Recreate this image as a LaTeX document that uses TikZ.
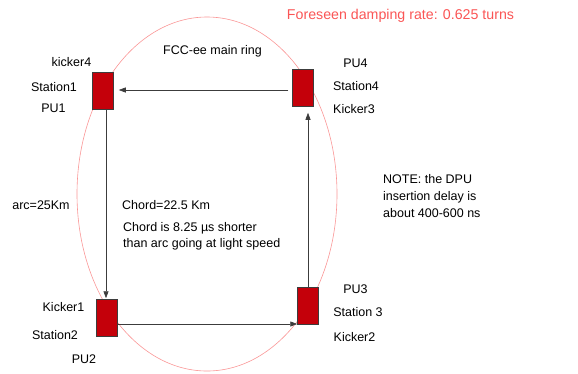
\documentclass[tikz,border=0pt]{standalone}
\usepackage{fontspec}
\setmainfont{Liberation Sans}
\usepackage{xcolor}
\usepackage{tikz}
\usetikzlibrary{arrows.meta,positioning,calc}
\definecolor{kickred}{RGB}{196,0,10}
\definecolor{ringpink}{RGB}{250,150,150}
\definecolor{notered}{RGB}{250,85,85}
\definecolor{arrgray}{RGB}{60,60,60}

\begin{document}
\begin{tikzpicture}[x=1pt,y=-1pt,
    station/.style={draw=arrgray,fill=kickred,minimum width=21pt,
                    minimum height=37pt,inner sep=0pt,line width=0.5pt},
    lbl/.style={font=\fontsize{12.5}{16}\selectfont,inner sep=0pt},
    arr/.style={-{Triangle[length=7pt,width=5pt]},line width=0.7pt,arrgray},
  ]
    \useasboundingbox (0,0) rectangle (578,373);
    % main ring
    \draw[ringpink,line width=0.6pt] (207,194) ellipse [x radius=130,y radius=177];
    % stations
    \node[station](s1) at (103,91){};
    \node[station](s4) at (303,88){};
    \node[station](s2) at (107,318){};
    \node[station](s3) at (308,306){};
    % connectors
    \draw[arr,shorten <=4pt,shorten >=5pt]
      ([yshift=-2pt]s4.west) -- ([yshift=-2pt]s4.west -| s1.east);
    \draw[arr,shorten >=1pt]
      ([xshift=3pt]s1.south) -- ([xshift=3pt]s1.south |- s2.north);
    \draw[arr]
      ([yshift=-6pt]s2.east) -- ([yshift=-6pt]s2.east -| s3.west);
    \draw[arr,shorten >=6pt] (s3.north) -- (s3.north |- s4.south);
    % labels
    \node[lbl,text=notered,font=\fontsize{14.2}{17}\selectfont](rate) at (400.5,16)
      {Foreseen damping rate: 0.625 turns};
    \node[lbl](ring) at (212.5,51){FCC-ee main ring};
    \node[lbl](k4) at (71.5,62){kicker4};
    \node[lbl](st1) at (54,87){Station1};
    \node[lbl](pu1) at (53.5,108){PU1};
    \node[lbl](pu4) at (355.5,63){PU4};
    \node[lbl](st4) at (356,86){Station4};
    \node[lbl](k3) at (354,109){Kicker3};
    \node[lbl](arc) at (41,205){arc=25Km};
    \node[lbl,anchor=west](chord) at (122,205){Chord=22.5 Km};
    \node[lbl,anchor=north west,align=left](diff) at (123,222)
      {Chord is 8.25 µs shorter\\than arc going at light speed};
    \node[lbl,anchor=north west,align=left,
      font=\fontsize{12.5}{17}\selectfont](note) at (383,174)
      {NOTE: the DPU\\insertion delay is\\about 400-600 ns};
    \node[lbl](k1) at (63.5,307){Kicker1};
    \node[lbl](st2) at (55,335){Station2};
    \node[lbl](pu2) at (84,359){PU2};
    \node[lbl](pu3) at (355.5,289){PU3};
    \node[lbl](st3) at (358,312){Station 3};
    \node[lbl](k2) at (354.5,337){Kicker2};
  \end{tikzpicture}
\end{document}
